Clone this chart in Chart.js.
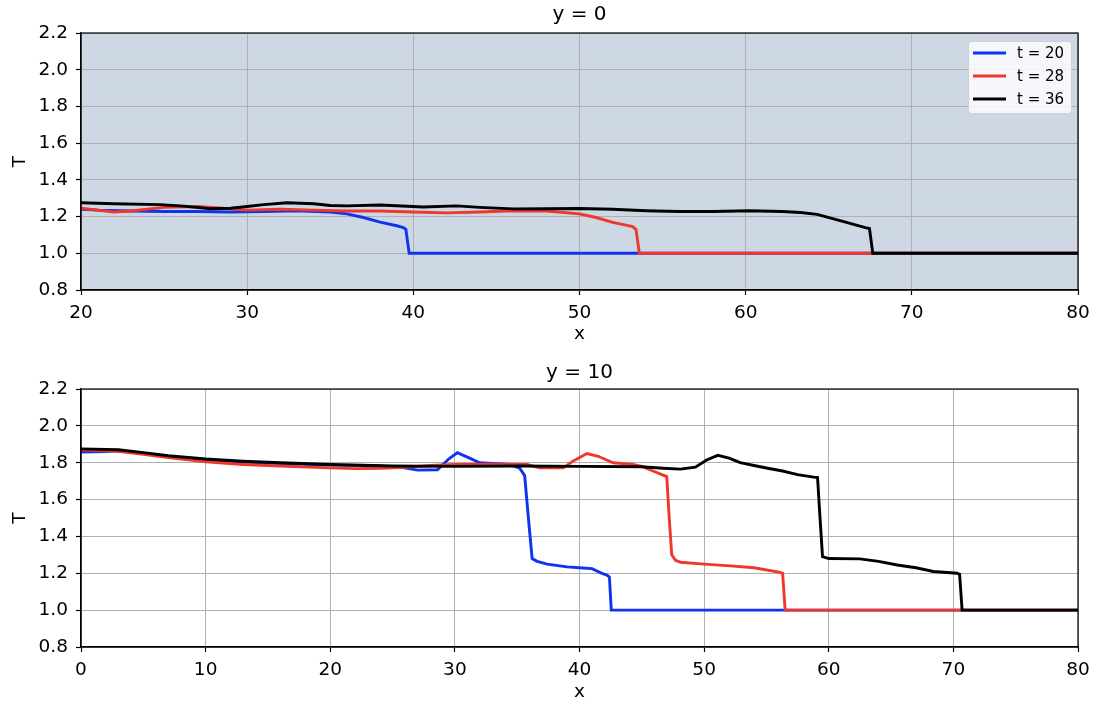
<!DOCTYPE html>
<html>
<head>
<meta charset="utf-8">
<script src="https://cdn.jsdelivr.net/npm/chart.js@4.4.1/dist/chart.umd.min.js"></script>
<style>
  body { margin: 0; background: #fff; width: 1097px; height: 703px; position: relative; overflow: hidden; }
  canvas { position: absolute; left: 0; }
  #topChart { top: 0; }
  #bottomChart { top: 355px; }
</style>
</head>
<body>
<canvas id="topChart" width="1097" height="350"></canvas>
<canvas id="bottomChart" width="1097" height="348"></canvas>
<script>
// series labels and colours
const seriesLabels = ['t = 20', 't = 28', 't = 36'];
const seriesColors = ['#1033f0', '#ee382c', '#000000'];
const yTicks = [0.8, 1.0, 1.2, 1.4, 1.6, 1.8, 2.0, 2.2];

// y = 0 panel
const top20x = [20, 21, 23, 25, 27, 29, 31, 33, 35, 36, 37, 38, 39, 39.4, 39.55, 39.75, 80];
const top20T = [1.24, 1.235, 1.23, 1.228, 1.228, 1.225, 1.228, 1.232, 1.225, 1.215, 1.195, 1.17, 1.15, 1.14, 1.13, 1.0, 1.0];
const top28x = [20, 22, 23, 25, 27, 28.5, 30, 32, 34, 36, 38, 40, 42, 44, 46, 48, 50, 51, 52, 53.2, 53.4, 53.6, 80];
const top28T = [1.245, 1.225, 1.23, 1.25, 1.255, 1.245, 1.235, 1.24, 1.235, 1.23, 1.23, 1.225, 1.22, 1.225, 1.232, 1.23, 1.215, 1.195, 1.168, 1.145, 1.13, 1.0, 1.0];
const top36x = [20, 22, 24.75, 26, 27.8, 29, 30, 31, 32.4, 34, 35, 36, 38, 40.6, 42.6, 44, 46, 48, 50, 52, 54, 56, 58, 60.25, 62.2, 63.3, 64.3, 65.9, 67.2, 67.45, 67.65, 80];
const top36T = [1.275, 1.27, 1.265, 1.258, 1.243, 1.245, 1.255, 1.265, 1.275, 1.27, 1.26, 1.258, 1.263, 1.252, 1.258, 1.25, 1.242, 1.243, 1.244, 1.24, 1.232, 1.228, 1.228, 1.232, 1.228, 1.222, 1.212, 1.172, 1.14, 1.135, 1.0, 1.0];

// y = 10 panel
const bot20x = [0, 2, 3, 5, 7, 10, 13, 16, 20, 23, 25.6, 27, 28.6, 29.5, 30.2, 31, 32, 34.4, 35.2, 35.6, 35.9, 36.2, 36.6, 37.4, 39, 40, 41, 41.8, 42.2, 42.4, 42.55, 80];
const bot20T = [1.858, 1.86, 1.865, 1.852, 1.835, 1.815, 1.803, 1.795, 1.787, 1.785, 1.776, 1.76, 1.762, 1.82, 1.855, 1.83, 1.80, 1.79, 1.77, 1.73, 1.5, 1.28, 1.265, 1.25, 1.235, 1.23, 1.225, 1.2, 1.19, 1.18, 1.0, 1.0];
const bot28x = [0, 3, 5, 7, 10, 13, 16, 20, 22, 24, 26, 28, 30, 33, 35.8, 36.8, 38.7, 39.5, 40.6, 41.5, 42.7, 44.3, 45, 45.9, 47.0, 47.2, 47.4, 47.7, 48.1, 50, 52.1, 54, 56.1, 56.3, 56.5, 80];
const bot28T = [1.87, 1.862, 1.845, 1.828, 1.805, 1.79, 1.782, 1.772, 1.768, 1.77, 1.775, 1.785, 1.79, 1.792, 1.79, 1.772, 1.772, 1.81, 1.85, 1.835, 1.80, 1.79, 1.78, 1.755, 1.725, 1.5, 1.3, 1.27, 1.26, 1.25, 1.24, 1.23, 1.205, 1.2, 1.0, 1.0];
const bot36x = [0, 3, 5, 7, 10, 13, 16, 20, 25, 30, 35, 40, 45, 46.7, 48.1, 49.3, 50.2, 51.1, 52, 52.9, 54, 55.1, 56.3, 57.5, 58.8, 59.1, 59.3, 59.5, 60, 62.5, 64, 65.5, 67, 68.4, 70.3, 70.5, 70.7, 80];
const bot36T = [1.875, 1.87, 1.855, 1.838, 1.82, 1.808, 1.8, 1.79, 1.782, 1.78, 1.782, 1.78, 1.778, 1.77, 1.765, 1.776, 1.815, 1.84, 1.825, 1.80, 1.785, 1.77, 1.755, 1.735, 1.722, 1.72, 1.5, 1.29, 1.28, 1.278, 1.265, 1.245, 1.23, 1.21, 1.2, 1.195, 1.0, 1.0];

const FONT = 'DejaVu Sans';
const TICK_SIZE = 18.5;
const LINE_W = 2.9;

function toPoints(xs, ts) {
  return xs.map((x, i) => ({ x: x, y: ts[i] }));
}

function makeDatasets(pairs) {
  return pairs.map((p, i) => ({
    label: seriesLabels[i],
    data: toPoints(p[0], p[1]),
    borderColor: seriesColors[i],
    backgroundColor: seriesColors[i],
    borderWidth: LINE_W,
    pointRadius: 0,
    tension: 0,
    fill: false,
    order: pairs.length - 1 - i // later series on top
  }));
}

// axes background (top panel only)
const bgPlugin = {
  id: 'bg',
  beforeDraw(chart, args, opts) {
    if (!opts.color) return;
    const a = chart.chartArea;
    const ctx = chart.ctx;
    ctx.save();
    ctx.fillStyle = opts.color;
    ctx.fillRect(a.left, a.top, a.right - a.left, a.bottom - a.top);
    ctx.restore();
  }
};

// top and right spines + panel title centred over the axes
const framePlugin = {
  id: 'frame',
  afterDatasetsDraw(chart, args, opts) {
    const a = chart.chartArea;
    const ctx = chart.ctx;
    ctx.save();
    ctx.strokeStyle = '#000';
    ctx.lineWidth = 1.2;
    ctx.strokeRect(a.left, a.top, a.right - a.left, a.bottom - a.top);
    ctx.fillStyle = '#000';
    ctx.font = '20px "' + FONT + '"';
    ctx.textAlign = 'center';
    ctx.textBaseline = 'middle';
    ctx.fillText(opts.title, (a.left + a.right) / 2, opts.titleY);
    ctx.restore();
  }
};

// matplotlib-like legend in upper right
const legendBox = {
  id: 'legendBox',
  afterDraw(chart, args, opts) {
    if (!opts.show) return;
    const a = chart.chartArea;
    const ctx = chart.ctx;
    const w = 103, h = 72;
    const x0 = a.right - 7 - w, y0 = a.top + 8;
    ctx.save();
    ctx.fillStyle = 'rgba(255,255,255,0.8)';
    ctx.strokeStyle = '#d0d0d0';
    ctx.lineWidth = 1;
    ctx.beginPath();
    ctx.roundRect(x0 + 0.5, y0 + 0.5, w, h, 3);
    ctx.fill();
    ctx.stroke();
    ctx.font = '15px "' + FONT + '"';
    ctx.textBaseline = 'middle';
    chart.data.datasets.forEach((ds, i) => {
      const yy = y0 + 12 + i * 23;
      ctx.strokeStyle = ds.borderColor;
      ctx.lineWidth = LINE_W;
      ctx.beginPath();
      ctx.moveTo(x0 + 5, yy);
      ctx.lineTo(x0 + 38, yy);
      ctx.stroke();
      ctx.fillStyle = '#000';
      ctx.fillText(ds.label, x0 + 49, yy + 1);
    });
    ctx.restore();
  }
};

function makeChart(id, cfg) {
  const ctx = document.getElementById(id).getContext('2d');
  return new Chart(ctx, {
    type: 'line',
    data: { datasets: cfg.datasets },
    options: {
      responsive: false,
      animation: false,
      events: [],
      layout: { padding: { left: 0, right: 19, top: cfg.topPad, bottom: 0 } },
      plugins: {
        legend: { display: false },
        tooltip: { enabled: false },
        title: { display: false },
        bg: { color: cfg.bg },
        frame: { title: cfg.title, titleY: cfg.titleY },
        legendBox: { show: cfg.legend }
      },
      scales: {
        x: {
          type: 'linear',
          min: cfg.xMin,
          max: cfg.xMax,
          afterFit: s => { s.height = cfg.xAxisH; },
          ticks: {
            stepSize: 10,
            color: '#000',
            padding: 7,
            maxRotation: 0,
            font: { family: FONT, size: TICK_SIZE }
          },
          grid: { color: '#b0b0b0', lineWidth: 1, tickColor: '#000', tickLength: 5, tickWidth: 1.2 },
          border: { display: true, color: '#000', width: 1.2 },
          title: {
            display: true,
            text: 'x',
            color: '#000',
            font: { family: FONT, size: TICK_SIZE },
            padding: { top: 0, bottom: cfg.xTitlePad }
          }
        },
        y: {
          min: 0.8,
          max: 2.2,
          afterFit: s => { s.width = 81; },
          afterBuildTicks: s => { s.ticks = yTicks.map(v => ({ value: v })); },
          ticks: {
            color: '#000',
            padding: 8,
            font: { family: FONT, size: TICK_SIZE },
            callback: v => Number(v).toFixed(1)
          },
          grid: { color: '#b0b0b0', lineWidth: 1, tickColor: '#000', tickLength: 5, tickWidth: 1.2 },
          border: { display: true, color: '#000', width: 1.2 },
          title: {
            display: true,
            text: 'T',
            color: '#000',
            font: { family: FONT, size: TICK_SIZE },
            padding: { top: 9, bottom: 0 }
          }
        }
      }
    },
    plugins: [bgPlugin, framePlugin, legendBox]
  });
}

makeChart('topChart', {
  title: 'y = 0',
  titleY: 15,
  topPad: 33,
  datasets: makeDatasets([[top20x, top20T], [top28x, top28T], [top36x, top36T]]),
  xMin: 20, xMax: 80,
  xAxisH: 60,
  xTitlePad: 5,
  bg: '#cdd8e4',
  legend: true
});

makeChart('bottomChart', {
  title: 'y = 10',
  titleY: 18,
  topPad: 34,
  datasets: makeDatasets([[bot20x, bot20T], [bot28x, bot28T], [bot36x, bot36T]]),
  xMin: 0, xMax: 80,
  xAxisH: 56,
  xTitlePad: 0,
  bg: null,
  legend: false
});
</script>
</body>
</html>
